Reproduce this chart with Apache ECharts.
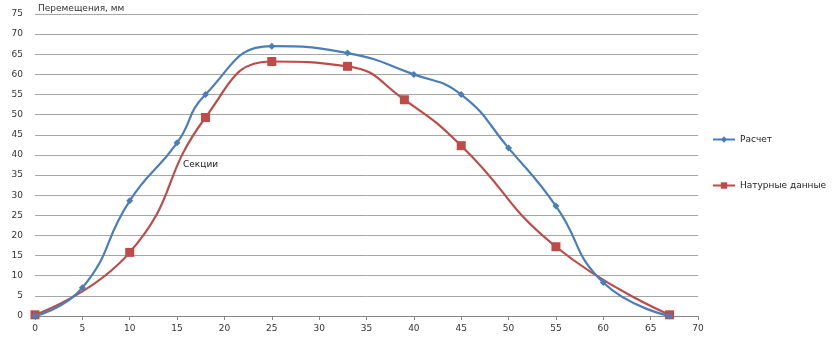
<!DOCTYPE html>
<html>
<head>
<meta charset="utf-8">
<script src="https://cdn.jsdelivr.net/npm/echarts@6/dist/echarts.min.js"></script>
<style>
  html, body { margin: 0; padding: 0; background: #fff; }
  #main { width: 838px; height: 342px; }
</style>
</head>
<body>
<div id="main"></div>
<script>
// данные
var calcX = [0, 5, 10, 15, 18, 25, 33, 40, 45, 50, 55, 60, 67];
var calcY = [0, 7, 28.6, 43, 55, 67, 65.3, 60, 55, 41.7, 27.3, 8.3, 0];
var fieldX = [0, 10, 18, 25, 33, 39, 45, 55, 67];
var fieldY = [0.3, 15.8, 49.3, 63.2, 62, 53.7, 42.3, 17.2, 0.3];
var seriesNames = ['Расчет', 'Натурные данные'];

function pairs(xs, ys) {
    return xs.map(function (x, i) { return [x, ys[i]]; });
}

var myChart = echarts.init(document.getElementById('main'));
var font = 'DejaVu Sans';
var option = {
    animation: false,
    grid: {
        left: 35,
        right: 140,
        top: 14,
        bottom: 26
    },
    legend: {
        orient: 'vertical',
        left: 707,
        top: 130,
        itemGap: 37,
        itemWidth: 22,
        itemHeight: 8,
        textStyle: { fontFamily: font, fontSize: 9, color: '#222' },
        data: seriesNames
    },
    graphic: [
        {
            type: 'text',
            left: 38,
            top: 4,
            style: { text: 'Перемещения, мм', fontFamily: font, fontSize: 9, fill: '#333' }
        },
        {
            type: 'text',
            left: 183,
            top: 160,
            style: { text: 'Секции', fontFamily: font, fontSize: 9, fill: '#222' }
        }
    ],
    xAxis: {
        type: 'value',
        min: 0,
        max: 70,
        interval: 5,
        axisLine: { show: true, lineStyle: { color: '#888' } },
        axisTick: { show: true, length: 4, lineStyle: { color: '#888' } },
        axisLabel: { fontFamily: font, fontSize: 9, color: '#333', margin: 8 },
        splitLine: { show: false }
    },
    yAxis: {
        type: 'value',
        min: 0,
        max: 75,
        interval: 5,
        axisLine: { show: false },
        axisTick: { show: false },
        axisLabel: { fontFamily: font, fontSize: 9, color: '#333', margin: 12 },
        splitLine: { show: true, lineStyle: { color: '#a6a6a6', width: 1 } }
    },
    series: [
        {
            name: seriesNames[0],
            type: 'line',
            smooth: 0.5,
            data: pairs(calcX, calcY),
            symbol: 'diamond',
            symbolSize: 7,
            itemStyle: { color: '#4a7ebb' },
            lineStyle: { color: '#4a7ebb', width: 2.2 },
            z: 3
        },
        {
            name: seriesNames[1],
            type: 'line',
            smooth: 0.5,
            data: pairs(fieldX, fieldY),
            symbol: 'rect',
            symbolSize: 9,
            itemStyle: { color: '#be4b48' },
            lineStyle: { color: '#be4b48', width: 2.2 },
            z: 2
        }
    ]
};

option && myChart.setOption(option);
</script>
</body>
</html>
